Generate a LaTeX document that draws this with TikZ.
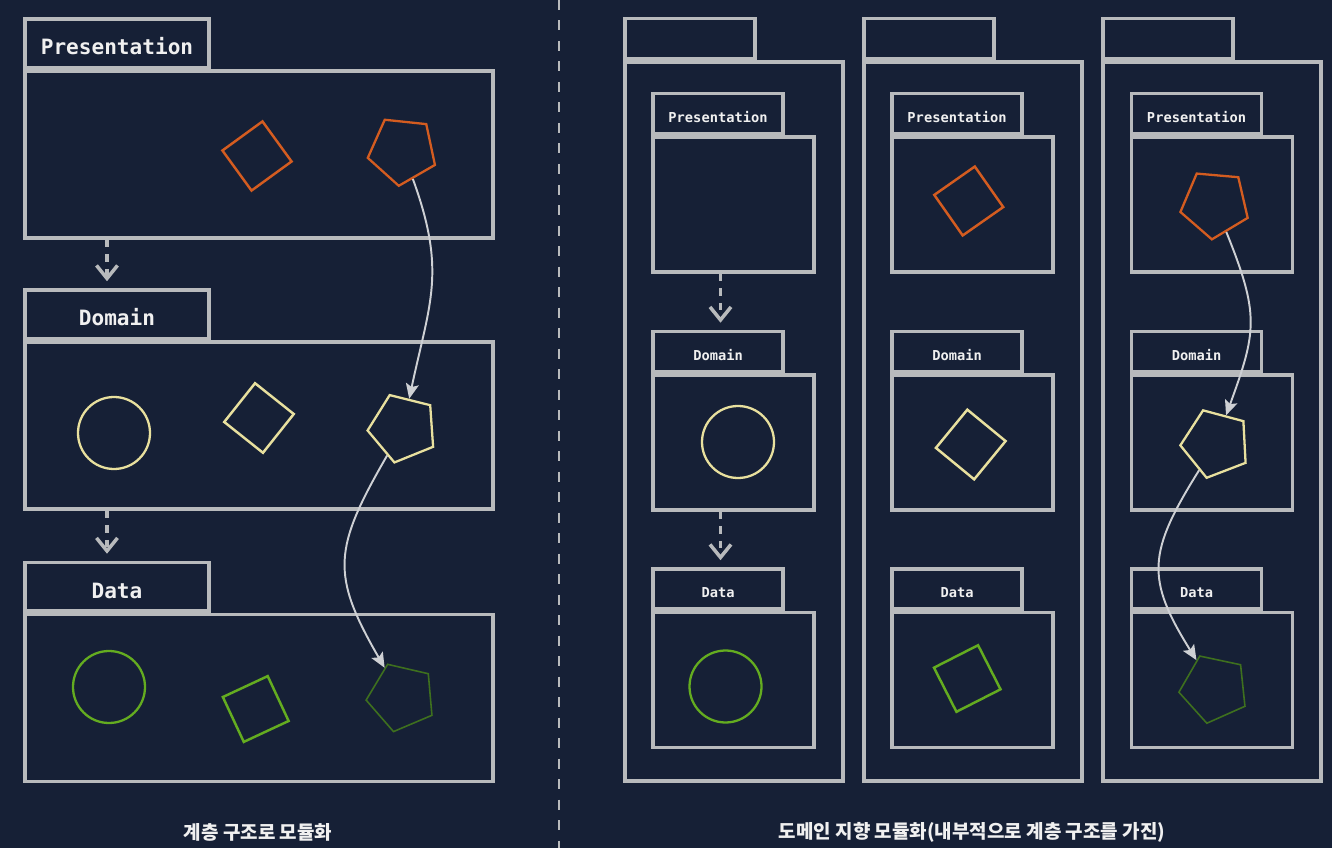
\documentclass[tikz,border=0pt]{standalone}
\usepackage{fontspec}
\setmonofont{DejaVu Sans Mono}
\newfontfamily\krfont{Noto Sans CJK KR}
\usepackage{tikz}
\usetikzlibrary{arrows.meta,positioning,shapes.geometric,calc}
\definecolor{bgnavy}{RGB}{22,32,54}
\definecolor{boxgray}{RGB}{184,186,188}
\definecolor{arrgray}{RGB}{206,208,212}
\definecolor{labwhite}{RGB}{240,240,240}
\definecolor{prescol}{RGB}{212,92,32}
\definecolor{domcol}{RGB}{232,224,158}
\definecolor{datcol}{RGB}{100,172,32}
\definecolor{datdark}{RGB}{62,112,30}

\begin{document}
\begin{tikzpicture}[
    font=\bfseries\ttfamily,
    pkg/.style={
		rectangle,
		draw=boxgray,
		line width=2pt,
		inner sep=0pt
	},
    bigbody/.style={
		pkg,
		minimum width=9.36cm,
		minimum height=3.34cm
	},
    bigtab/.style={
		pkg,
		anchor=south west,
		minimum width=3.68cm,
		minimum height=0.97cm,
		text=labwhite,
		text height=1.3em,
		text depth=0pt,
		font=\bfseries\ttfamily\fontsize{12}{14}\selectfont
	},
    outerbody/.style={
		pkg,
		minimum width=4.36cm,
		minimum height=14.38cm
	},
    innerbody/.style={
		pkg,
		minimum width=3.22cm,
		minimum height=2.7cm
	},
    smalltab/.style={
		pkg,
		anchor=south west,
		minimum width=2.6cm,
		minimum height=0.8cm,
		text=labwhite,
		text height=1em,
		text depth=0pt,
		font=\bfseries\ttfamily\fontsize{7.8}{9}\selectfont
	},
    sq/.style={
		rectangle,
		minimum size=0.99cm,
		inner sep=0pt,
		line width=1.4pt
	},
    circ/.style={
		circle,
		minimum size=1.44cm,
		inner sep=0pt,
		line width=1.3pt
	},
    pent/.style={
		regular polygon,
		regular polygon sides=5,
		minimum size=1.42cm,
		inner sep=0pt,
		line width=1.3pt
	},
    dep/.style={
		draw=boxgray,
		line width=2pt,
		dash pattern=on 0.15cm off 0.14cm,
		shorten >=0.14cm,
		-{Straight Barb[length=0.26cm,width=0.42cm]}
	},
    flow/.style={
		draw=arrgray,
		line width=1.1pt,
		-{Stealth[length=0.3cm,width=0.26cm,inset=0.06cm]}
	},
    caption/.style={
		text=labwhite,
		font=\krfont\bfseries\fontsize{10.8}{13}\selectfont
	}
  ]
  \useasboundingbox (0,0) rectangle (26.64,16.96);
  \fill[bgnavy] (0,0) rectangle (26.64,16.96);

  % separator
  \draw[boxgray, line width=1.3pt, dash pattern=on 0.2cm off 0.21cm] (11.18,16.96) -- (11.18,0);

  % left: layered modules
  \node [bigbody] (lpBody) at (5.18,13.87) {};
  \node [bigtab] (lpTab) at (lpBody.north west) {Presentation};
  \node [bigbody] (ldBody) at (5.18,8.45) {};
  \node [bigtab] (ldTab) at (ldBody.north west) {Domain};
  \node [bigbody] (laBody) at (5.18,3.00) {};
  \node [bigtab] (laTab) at (laBody.north west) {Data};

  \node [sq, draw=prescol, rotate=36] (lpSq) at (5.14,13.84) {};
  \node [pent, draw=prescol, shape border rotate=174] (lpPent) at (8.05,13.95) {};
  \node [circ, draw=domcol] (ldCirc) at (2.28,8.30) {};
  \node [sq, draw=domcol, rotate=51.5] (ldSq) at (5.18,8.60) {};
  \node [pent, draw=domcol, shape border rotate=166] (ldPent) at (8.06,8.40) {};
  \node [circ, draw=datcol] (laCirc) at (2.18,3.22) {};
  \node [sq, draw=datcol, rotate=25] (laSq) at (5.115,2.78) {};
  \node [pent, draw=datdark, line width=0.9pt, shape border rotate=167] (laPent) at (8.03,3.02) {};

  \draw [dep] ($(ldTab.north |- lpBody.south)+(-0.2,0)$) -- ($(ldTab.north)+(-0.2,0)$);
  \draw [dep] ($(laTab.north |- ldBody.south)+(-0.2,0)$) -- ($(laTab.north)+(-0.2,0)$);
  \draw [flow] (lpPent) to[out=-70, in=78, looseness=1.15] (ldPent);
  \draw [flow] (ldPent) to[out=-120, in=120, looseness=1.3] (laPent);

  % right: one column per feature
  \node [outerbody] (c1Body) at (14.68,8.53) {};
  \node [smalltab] (c1Tab) at (c1Body.north west) {};
  \node [outerbody] (c2Body) at (19.46,8.53) {};
  \node [smalltab] (c2Tab) at (c2Body.north west) {};
  \node [outerbody] (c3Body) at (24.24,8.53) {};
  \node [smalltab] (c3Tab) at (c3Body.north west) {};

  \node [innerbody] (c1pBody) at (14.67,12.87) {};
  \node [smalltab] (c1pTab) at (c1pBody.north west) {Presentation};
  \node [innerbody] (c1dBody) at (14.67,8.11) {};
  \node [smalltab] (c1dTab) at (c1dBody.north west) {Domain};
  \node [innerbody] (c1aBody) at (14.67,3.36) {};
  \node [smalltab] (c1aTab) at (c1aBody.north west) {Data};

  \node [innerbody] (c2pBody) at (19.45,12.87) {};
  \node [smalltab] (c2pTab) at (c2pBody.north west) {Presentation};
  \node [innerbody] (c2dBody) at (19.45,8.11) {};
  \node [smalltab] (c2dTab) at (c2dBody.north west) {Domain};
  \node [innerbody] (c2aBody) at (19.45,3.36) {};
  \node [smalltab] (c2aTab) at (c2aBody.north west) {Data};

  \node [innerbody] (c3pBody) at (24.24,12.87) {};
  \node [smalltab] (c3pTab) at (c3pBody.north west) {Presentation};
  \node [innerbody] (c3dBody) at (24.24,8.11) {};
  \node [smalltab] (c3dTab) at (c3dBody.north west) {Domain};
  \node [innerbody] (c3aBody) at (24.24,3.36) {};
  \node [smalltab] (c3aTab) at (c3aBody.north west) {Data};

  \node [circ, draw=domcol] (c1dCirc) at (14.76,8.12) {};
  \node [circ, draw=datcol] (c1aCirc) at (14.51,3.23) {};
  \node [sq, draw=prescol, rotate=35] (c2pSq) at (19.375,12.94) {};
  \node [sq, draw=domcol, rotate=50.6] (c2dSq) at (19.415,8.07) {};
  \node [sq, draw=datcol, rotate=27] (c2aSq) at (19.345,3.39) {};
  \node [pent, draw=prescol, shape border rotate=175] (c3pPent) at (24.30,12.88) {};
  \node [pent, draw=domcol, shape border rotate=165] (c3dPent) at (24.316,8.09) {};
  \node [pent, draw=datdark, line width=0.9pt, shape border rotate=168] (c3aPent) at (24.284,3.19) {};

  \draw [dep] ($(c1dTab.north |- c1pBody.south)+(0.05,0)$) -- ($(c1dTab.north)+(0.05,0)$);
  \draw [dep] ($(c1aTab.north |- c1dBody.south)+(0.05,0)$) -- ($(c1aTab.north)+(0.05,0)$);
  \draw [flow] (c3pPent) to[out=-68, in=70, looseness=1.25] (c3dPent);
  \draw [flow] (c3dPent) to[out=-122, in=122, looseness=1.3] (c3aPent);

  \node [caption] (capLeft) at (5.16,0.31) {계층 구조로 모듈화};
  \node [caption] (capRight) at (19.44,0.31) {도메인 지향 모듈화(내부적으로 계층 구조를 가진)};
\end{tikzpicture}
\end{document}
